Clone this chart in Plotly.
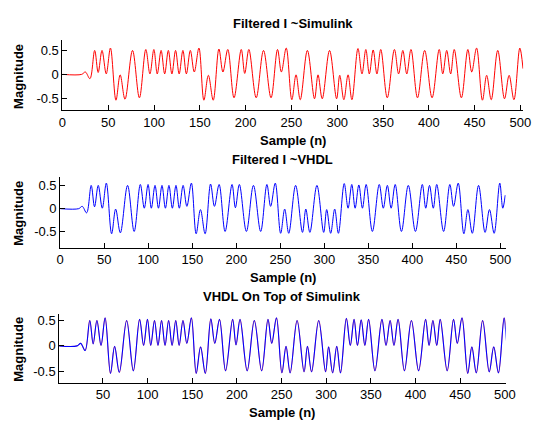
import plotly.graph_objects as go

W, H = 541, 424

# Local extrema of the filtered I waveform (sample index, magnitude)
core_n = [0, 21, 25, 30, 35.2, 39, 43.2, 47.8, 52.4, 58.4, 63, 68.3, 76.5, 84, 91, 95.5,
          99.8, 103.5, 107.7, 111.6, 115.6, 119.5, 123.5, 127.4, 131.5, 135.3, 139.6, 143.9,
          149, 154.4, 159.3, 164.6, 170.8, 175.2, 180.5, 187.3, 195.2, 199, 203.5, 211.5,
          219.5, 227.7, 234.8, 239, 244.3, 250.4, 255, 259.6, 267.4, 275.2, 279, 283.6,
          291.6, 299.3, 302.7, 307.2, 311.8, 316, 322.6, 327, 331.2, 335, 339.2, 343.3,
          347.5, 354.6, 362.4, 367, 371.6, 375.9, 380.5, 387.6, 395.4, 403.5, 411.3, 415.2,
          419.5, 423.8, 427.7, 435.5, 442.6, 446.8, 452.1, 458.5, 463.1, 468.1, 475.2,
          482.6, 487.6, 492.9, 499.3]
core_mag = [0, 0, 0.05, -0.09, 0.5, 0.04, 0.5, 0.01, 0.55, -0.54, -0.01, -0.52, 0.5, -0.49,
            0.52, 0.01, 0.52, 0.01, 0.5, 0.01, 0.5, 0.01, 0.5, 0.01, 0.5, 0.01, 0.5, 0.05,
            0.55, -0.54, -0.02, -0.54, 0.53, 0.05, 0.52, -0.49, 0.52, 0.02, 0.52, -0.49,
            0.5, -0.49, 0.52, 0.05, 0.55, -0.53, -0.01, -0.53, 0.5, -0.51, -0.01, -0.51,
            0.5, -0.51, -0.02, -0.53, -0.01, -0.53, 0.54, 0.01, 0.52, 0.01, 0.51, 0.01,
            0.52, -0.49, 0.52, 0.01, 0.5, 0.01, 0.52, -0.49, 0.5, -0.49, 0.52, 0.01,
            0.5, 0.01, 0.52, -0.49, 0.52, 0.05, 0.55, -0.54, -0.02, -0.53, 0.5,
            -0.51, -0.02, -0.53, 0.55]

sim_tail_n = [502.8]
sim_tail_mag = [0.12]
vhdl_tail_n = [502.7, 505.5]
vhdl_tail_mag = [0.01, 0.29]

sim_n = core_n + sim_tail_n
sim_mag = core_mag + sim_tail_mag
vhdl_n = core_n + vhdl_tail_n
vhdl_mag = core_mag + vhdl_tail_mag

titles = ["Filtered I ~Simulink", "Filtered I ~VHDL", "VHDL On Top of Simulink"]
x_label = "Sample (n)"
y_label = "Magnitude"
y_ticks = [-0.5, 0, 0.5]
y_tick_text = ["-0.5", "0", "0.5"]

FONT = "Liberation Sans, Arial, Helvetica, sans-serif"

# pixel boxes of each axes: (left, right, top, bottom)
boxes = [(60, 533, 39.5, 109.5), (57.7, 515, 176, 247.3), (56.7, 515, 313.3, 382.7)]
xranges = [[0, 503], [0, 506], [1, 501]]
yranges = [[-0.75, 0.71], [-0.84, 0.69], [-0.725, 0.635]]

fig = go.Figure()

spl = dict(shape="spline", smoothing=1.0)
fig.add_trace(go.Scatter(x=sim_n, y=sim_mag, mode="lines",
                         line=dict(color="#ff0000", width=1, **spl), xaxis="x", yaxis="y"))
fig.add_trace(go.Scatter(x=vhdl_n, y=vhdl_mag, mode="lines",
                         line=dict(color="#0000ff", width=1, **spl), xaxis="x2", yaxis="y2"))
fig.add_trace(go.Scatter(x=sim_n, y=sim_mag, mode="lines",
                         line=dict(color="#ff0000", width=0.5, **spl), xaxis="x3", yaxis="y3"))
fig.add_trace(go.Scatter(x=vhdl_n, y=vhdl_mag, mode="lines",
                         line=dict(color="#0000ff", width=1.1, **spl), xaxis="x3", yaxis="y3"))

layout = dict(width=W, height=H, margin=dict(l=0, r=0, t=0, b=0),
              paper_bgcolor="white", plot_bgcolor="white", showlegend=False,
              font=dict(family=FONT, size=13, color="black"))
annotations = []
for i, (l, r, t, b) in enumerate(boxes):
    sfx = "" if i == 0 else str(i + 1)
    xa = dict(domain=[l / W, r / W], range=xranges[i], anchor="y" + sfx,
              showline=True, linecolor="black", linewidth=1, mirror=False,
              ticks="inside", ticklen=5, tickcolor="black", showgrid=False,
              zeroline=False, tick0=0, dtick=50,
              tickfont=dict(family=FONT, size=13, color="black"))
    ya = dict(domain=[1 - b / H, 1 - t / H], range=yranges[i], anchor="x" + sfx,
              showline=True, linecolor="black", linewidth=1, mirror=False,
              ticks="inside", ticklen=5, tickcolor="black", showgrid=False,
              zeroline=False, tickvals=y_ticks, ticktext=y_tick_text,
              tickfont=dict(family=FONT, size=13, color="black"))
    layout["xaxis" + sfx] = xa
    layout["yaxis" + sfx] = ya
    cx = (l + r) / 2
    annotations.append(dict(text="<b>%s</b>" % titles[i], x=cx / W, y=1 - (t - 17) / H,
                            xref="paper", yref="paper", showarrow=False,
                            xanchor="center", yanchor="middle",
                            font=dict(family=FONT, size=13, color="black")))
    annotations.append(dict(text="<b>%s</b>" % x_label, x=cx / W, y=1 - (b + 30) / H,
                            xref="paper", yref="paper", showarrow=False,
                            xanchor="center", yanchor="middle",
                            font=dict(family=FONT, size=13, color="black")))
    annotations.append(dict(text="<b>%s</b>" % y_label, x=15.5 / W, y=1 - ((t + b) / 2 + 1.5) / H,
                            xref="paper", yref="paper", showarrow=False, textangle=-90,
                            xanchor="center", yanchor="middle",
                            font=dict(family=FONT, size=13, color="black")))
layout["annotations"] = annotations
fig.update_layout(**layout)
fig.write_html("out.html", config={"displayModeBar": False})

# remove the default page margin so the figure sits at the window's top-left corner
with open("out.html", encoding="utf-8") as f:
    html = f.read()
html = html.replace("<head>", "<head><style>html,body{margin:0;padding:0;overflow:hidden;}</style>", 1)
with open("out.html", "w", encoding="utf-8") as f:
    f.write(html)
